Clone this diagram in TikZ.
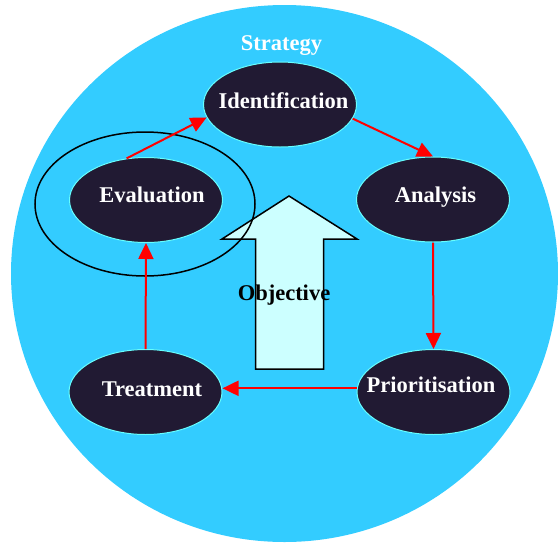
\documentclass[tikz,border=0pt]{standalone}
\usepackage{fontspec}
\setmainfont{Liberation Serif}
\usetikzlibrary{shapes.geometric,arrows.meta}
\definecolor{skyblue}{HTML}{33CCFF}
\definecolor{nodedark}{HTML}{211A33}
\definecolor{nodeedge}{HTML}{66FFFF}
\definecolor{arrowfill}{HTML}{CCFFFF}
\tikzset{
  stage/.style={ellipse, fill=nodedark, draw=nodeedge, line width=1pt,
    minimum width=153pt, minimum height=85pt, inner xsep=-30pt, inner ysep=0pt,
    text=white, font=\bfseries\fontsize{22.5}{27}\selectfont, text height=15pt},
  flow/.style={red, line width=2pt, -{Triangle[length=16pt,width=15pt]}},
  bigtext/.style={font=\bfseries\fontsize{22.5}{27}\selectfont, inner sep=0pt, anchor=base}
}
\begin{document}
\begin{tikzpicture}[x=1pt,y=-1pt]
\useasboundingbox (0,0) rectangle (558,542);
% background strategy disc
\node[ellipse, fill=skyblue, minimum width=547pt, minimum height=537pt, inner sep=0pt] (disc) at (284.5,273.5) {};
\node[bigtext, text=white] (strategy) at (281.5,50) {Strategy};
% objective block arrow
\draw[line width=1.5pt, fill=arrowfill, line join=miter]
  (289,196) -- (357,239) -- (323.5,239) -- (323.5,369) -- (255.5,369) -- (255.5,239) -- (222,239) -- cycle;
\node[bigtext, text=black] (objective) at (284,300.5) {Objective};
% stages
\node[stage, text depth=8pt] (ident) at (280,104.5) {\hspace*{7pt}Identification};
\node[stage, text depth=9.6pt] (eval) at (146,200) {\hspace*{12pt}Evaluation};
\node[stage, text depth=9.6pt] (anal) at (433,199.5) {\hspace*{5pt}Analysis};
\node[stage, text depth=7pt] (treat) at (145.5,392) {\hspace*{13pt}Treatment};
\node[stage, text depth=14.4pt] (prior) at (433.5,392) {Prioritisation\hspace*{5pt}};
% focus ring around evaluation
\node[ellipse, draw=black, line width=1.5pt, minimum width=220pt, minimum height=144pt, inner sep=0pt] (ring) at (145,204) {};
% cycle arrows
\draw[flow] (eval.115) -- (ident.190);
\draw[flow] (ident.-11) -- (anal.north);
\draw[flow] (anal.south) -- (prior.north);
\draw[flow] ([yshift=3.7pt]prior.west) -- ([yshift=3.7pt]treat.east);
\draw[flow] (treat.north) -- (eval.south);
\end{tikzpicture}
\end{document}
